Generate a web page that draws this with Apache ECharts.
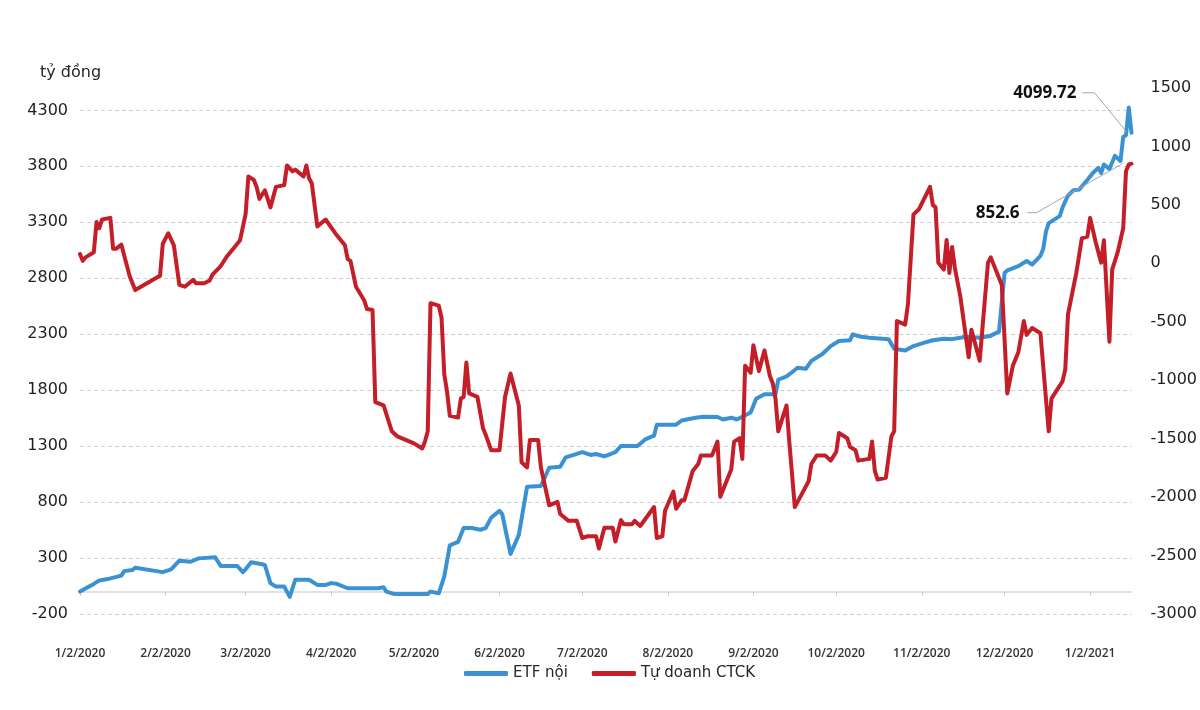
<!DOCTYPE html>
<html>
<head>
<meta charset="utf-8">
<script src="https://cdn.jsdelivr.net/npm/echarts@6/dist/echarts.min.js"></script>
<style>
html,body{margin:0;padding:0;background:#fff;}
#chart{width:1200px;height:710px;}
</style>
</head>
<body>
<div id="chart"></div>
<script>
// ---- Data ----
const unitLabel = 'tỷ đồng';
const seriesNames = ['ETF nội', 'Tự doanh CTCK'];
const axisStart = '2020-01-02';
const axisEnd = '2021-01-17';
const leftTicks = { min: -200, max: 4500, step: 500 };
const rightTicks = { min: -3000, max: 1500, step: 500 };

const etfDates = ['1/2/2020','1/7/2020','1/9/2020','1/12/2020','1/17/2020','1/18/2020','1/21/2020','1/22/2020','2/1/2020','2/4/2020','2/7/2020','2/11/2020','2/14/2020','2/20/2020','2/22/2020','2/28/2020','3/1/2020','3/2/2020','3/4/2020','3/8/2020','3/9/2020','3/11/2020','3/13/2020','3/16/2020','3/18/2020','3/20/2020','3/25/2020','3/28/2020','3/31/2020','4/2/2020','4/4/2020','4/8/2020','4/19/2020','4/21/2020','4/22/2020','4/25/2020','5/7/2020','5/8/2020','5/11/2020','5/13/2020','5/15/2020','5/18/2020','5/20/2020','5/23/2020','5/26/2020','5/28/2020','5/30/2020','6/2/2020','6/3/2020','6/6/2020','6/9/2020','6/12/2020','6/17/2020','6/20/2020','6/24/2020','6/26/2020','6/28/2020','7/2/2020','7/5/2020','7/7/2020','7/10/2020','7/14/2020','7/16/2020','7/22/2020','7/25/2020','7/28/2020','7/29/2020','8/5/2020','8/7/2020','8/12/2020','8/15/2020','8/20/2020','8/22/2020','8/25/2020','8/27/2020','9/1/2020','9/3/2020','9/6/2020','9/10/2020','9/11/2020','9/14/2020','9/16/2020','9/18/2020','9/21/2020','9/23/2020','9/27/2020','9/30/2020','10/3/2020','10/7/2020','10/8/2020','10/11/2020','10/14/2020','10/21/2020','10/23/2020','10/27/2020','10/30/2020','11/3/2020','11/6/2020','11/10/2020','11/13/2020','11/18/2020','11/23/2020','11/27/2020','11/30/2020','12/2/2020','12/3/2020','12/7/2020','12/10/2020','12/12/2020','12/15/2020','12/16/2020','12/17/2020','12/18/2020','12/22/2020','12/23/2020','12/25/2020','12/27/2020','12/29/2020','1/1/2021','1/3/2021','1/5/2021','1/6/2021','1/7/2021','1/9/2021','1/11/2021','1/13/2021','1/14/2021','1/15/2021','1/16/2021','1/17/2021'];
const etfValues = [0,69,100,112,143,183,193,214,174,199,276,267,297,306,229,229,174,199,262,245,236,76,45,45,-47,106,106,60,60,76,70,30,30,39,0,-22,-22,0,-15,137,414,445,568,568,553,568,661,722,691,337,507,938,944,1107,1116,1200,1215,1246,1221,1230,1209,1246,1301,1301,1363,1393,1492,1492,1529,1554,1563,1560,1538,1554,1538,1600,1723,1763,1763,1893,1923,1960,2000,1991,2062,2123,2194,2240,2246,2299,2277,2268,2256,2170,2154,2194,2225,2246,2260,2256,2277,2268,2287,2323,2847,2871,2908,2954,2923,3000,3062,3216,3293,3355,3432,3540,3586,3592,3678,3740,3786,3740,3817,3777,3894,3848,4063,4078,4325,4099.72];

const tdDates = ['1/2/2020','1/3/2020','1/4/2020','1/7/2020','1/8/2020','1/9/2020','1/10/2020','1/13/2020','1/14/2020','1/15/2020','1/17/2020','1/20/2020','1/22/2020','1/31/2020','2/1/2020','2/3/2020','2/5/2020','2/7/2020','2/9/2020','2/12/2020','2/13/2020','2/16/2020','2/18/2020','2/19/2020','2/22/2020','2/24/2020','2/26/2020','2/28/2020','2/29/2020','3/2/2020','3/3/2020','3/5/2020','3/6/2020','3/7/2020','3/9/2020','3/11/2020','3/13/2020','3/16/2020','3/17/2020','3/19/2020','3/20/2020','3/23/2020','3/24/2020','3/25/2020','3/26/2020','3/28/2020','3/31/2020','4/4/2020','4/7/2020','4/8/2020','4/9/2020','4/11/2020','4/14/2020','4/15/2020','4/17/2020','4/18/2020','4/21/2020','4/24/2020','4/26/2020','5/2/2020','5/5/2020','5/6/2020','5/7/2020','5/8/2020','5/11/2020','5/12/2020','5/13/2020','5/14/2020','5/15/2020','5/18/2020','5/19/2020','5/20/2020','5/21/2020','5/22/2020','5/25/2020','5/27/2020','5/28/2020','5/30/2020','6/2/2020','6/4/2020','6/6/2020','6/9/2020','6/10/2020','6/12/2020','6/13/2020','6/16/2020','6/17/2020','6/20/2020','6/23/2020','6/24/2020','6/27/2020','6/30/2020','7/2/2020','7/4/2020','7/7/2020','7/8/2020','7/10/2020','7/13/2020','7/14/2020','7/16/2020','7/17/2020','7/20/2020','7/21/2020','7/23/2020','7/28/2020','7/29/2020','7/31/2020','8/1/2020','8/4/2020','8/5/2020','8/7/2020','8/8/2020','8/11/2020','8/13/2020','8/14/2020','8/18/2020','8/20/2020','8/21/2020','8/25/2020','8/26/2020','8/28/2020','8/29/2020','8/30/2020','9/1/2020','9/2/2020','9/4/2020','9/6/2020','9/8/2020','9/9/2020','9/10/2020','9/11/2020','9/14/2020','9/15/2020','9/17/2020','9/20/2020','9/22/2020','9/23/2020','9/25/2020','9/28/2020','9/30/2020','10/2/2020','10/3/2020','10/6/2020','10/7/2020','10/9/2020','10/10/2020','10/14/2020','10/15/2020','10/16/2020','10/17/2020','10/20/2020','10/22/2020','10/23/2020','10/24/2020','10/27/2020','10/28/2020','10/30/2020','11/1/2020','11/5/2020','11/6/2020','11/7/2020','11/8/2020','11/10/2020','11/11/2020','11/12/2020','11/13/2020','11/14/2020','11/16/2020','11/19/2020','11/20/2020','11/23/2020','11/26/2020','11/27/2020','11/30/2020','12/1/2020','12/3/2020','12/5/2020','12/7/2020','12/9/2020','12/10/2020','12/12/2020','12/15/2020','12/18/2020','12/19/2020','12/23/2020','12/24/2020','12/25/2020','12/28/2020','12/30/2020','1/1/2021','1/2/2021','1/4/2021','1/6/2021','1/7/2021','1/9/2021','1/10/2021','1/12/2021','1/14/2021','1/15/2021','1/16/2021','1/17/2021'];
const tdValues = [80,21,51,95,354,301,375,389,124,124,160,-111,-229,-106,168,257,154,-185,-200,-141,-170,-170,-147,-97,-23,51,110,168,198,420,743,713,654,551,625,478,654,669,837,787,802,743,837,728,684,316,375,242,154,36,21,-200,-318,-391,-400,-1187,-1216,-1437,-1481,-1540,-1584,-1525,-1437,-341,-362,-465,-951,-1098,-1304,-1319,-1157,-1143,-848,-1113,-1143,-1408,-1467,-1599,-1599,-1143,-942,-1216,-1702,-1746,-1511,-1511,-1746,-2070,-2041,-2144,-2203,-2203,-2350,-2335,-2335,-2439,-2262,-2262,-2380,-2197,-2232,-2232,-2203,-2247,-2085,-2350,-2335,-2114,-1953,-2100,-2026,-2026,-1776,-1717,-1643,-1643,-1525,-1997,-1761,-1525,-1496,-1673,-877,-936,-701,-922,-745,-966,-1025,-1157,-1437,-1216,-1525,-2085,-1953,-1864,-1717,-1643,-1643,-1688,-1614,-1452,-1496,-1570,-1599,-1688,-1673,-1525,-1776,-1850,-1835,-1481,-1437,-494,-524,-347,419,463,655,500,480,6,-53,200,-82,140,-38,-288,-804,-568,-833,6,51,-126,-185,-1113,-877,-760,-494,-612,-553,-598,-1437,-1157,-1010,-907,-435,-82,213,228,389,183,6,198,-671,-53,95,301,787,846,852.6];

// ---- Category axis: every calendar day in range ----
const categories = [];
(function () {
  const s = new Date(axisStart + 'T00:00:00Z'), e = new Date(axisEnd + 'T00:00:00Z');
  for (let t = s.getTime(); t <= e.getTime(); t += 86400000) {
    const d = new Date(t);
    categories.push((d.getUTCMonth() + 1) + '/' + d.getUTCDate() + '/' + d.getUTCFullYear());
  }
})();
const isMonthTick = (idx, val) => String(val).split('/')[1] === '2';
const plain = v => String(v);

const BLUE = '#3b92d3', RED = '#c41e28';
const chart = echarts.init(document.getElementById('chart'), null, { renderer: 'canvas' });

chart.setOption({
  animation: false,
  backgroundColor: '#ffffff',
  title: {
    text: unitLabel, left: 35, top: 60,
    textStyle: { fontFamily: 'DejaVu Sans', fontSize: 16, fontWeight: 'normal', color: '#262626' }
  },
  legend: {
    data: seriesNames, top: 661, left: 459,
    icon: 'roundRect', itemWidth: 44, itemHeight: 5, itemGap: 24,
    textStyle: { fontFamily: 'DejaVu Sans', fontSize: 15, color: '#262626' }
  },
  grid: { left: 80, right: 68, top: 88, bottom: 96, containLabel: false },
  xAxis: {
    type: 'category', data: categories, boundaryGap: false,
    axisLine: { show: true, onZero: true, onZeroAxisIndex: 0, lineStyle: { color: '#d9d9d9', width: 1.5 } },
    axisTick: { show: true, interval: isMonthTick, length: 4, lineStyle: { color: '#c8c8c8' } },
    axisLabel: { interval: isMonthTick, margin: 34, fontFamily: 'Open Sans', fontSize: 12, fontWeight: 600, color: '#333333' },
    splitLine: { show: false }
  },
  yAxis: [
    {
      type: 'value', position: 'left', min: leftTicks.min, max: leftTicks.max, interval: leftTicks.step,
      axisLine: { show: false }, axisTick: { show: false },
      axisLabel: { margin: 12, showMaxLabel: false, formatter: plain, fontFamily: 'DejaVu Sans', fontSize: 16, color: '#1f1f1f' },
      splitLine: { show: true, showMaxLine: false, lineStyle: { type: [4, 3], color: '#d0d0d0', width: 1 } }
    },
    {
      type: 'value', position: 'right', min: rightTicks.min, max: rightTicks.max, interval: rightTicks.step,
      axisLine: { show: false }, axisTick: { show: false },
      axisLabel: { margin: 19, formatter: plain, fontFamily: 'DejaVu Sans', fontSize: 16, color: '#1f1f1f' },
      splitLine: { show: false }
    }
  ],
  series: [
    {
      name: seriesNames[0], type: 'line', yAxisIndex: 0, symbol: 'none',
      data: etfDates.map((d, i) => [d, etfValues[i]]),
      lineStyle: { color: BLUE, width: 4, join: 'round', cap: 'round' },
      itemStyle: { color: BLUE }
    },
    {
      name: seriesNames[1], type: 'line', yAxisIndex: 1, symbol: 'none',
      data: tdDates.map((d, i) => [d, tdValues[i]]),
      lineStyle: { color: RED, width: 4, join: 'round', cap: 'round' },
      itemStyle: { color: RED }
    }
  ]
});

// ---- Annotations for the last values, anchored through the axes ----
const lastE = [etfDates[etfDates.length - 1], etfValues[etfValues.length - 1]];
const lastT = [tdDates[tdDates.length - 1], tdValues[tdValues.length - 1]];
const pE = chart.convertToPixel({ xAxisIndex: 0, yAxisIndex: 0 }, lastE);
const pT = chart.convertToPixel({ xAxisIndex: 0, yAxisIndex: 1 }, lastT);
const annFont = { fontFamily: 'Open Sans', fontSize: 17, fontWeight: 'bold', fill: '#111' };
chart.setOption({
  graphic: [
    { type: 'polyline', silent: true, z: 100,
      shape: { points: [[pE[0] - 49, pE[1] - 40], [pE[0] - 37, pE[1] - 40], [pE[0] - 5, pE[1] - 1]] },
      style: { stroke: '#a6a6a6', lineWidth: 1, fill: null } },
    { type: 'text', silent: true, z: 100, x: pE[0] - 55, y: pE[1] - 40,
      style: Object.assign({ text: String(lastE[1]), align: 'right', verticalAlign: 'middle' }, annFont) },
    { type: 'polyline', silent: true, z: 100,
      shape: { points: [[pT[0] - 104, pT[1] + 49], [pT[0] - 95, pT[1] + 49], [pT[0] - 9, pT[1]]] },
      style: { stroke: '#a6a6a6', lineWidth: 1, fill: null } },
    { type: 'text', silent: true, z: 100, x: pT[0] - 112, y: pT[1] + 49,
      style: Object.assign({ text: String(lastT[1]), align: 'right', verticalAlign: 'middle' }, annFont) }
  ]
});
</script>
</body>
</html>
